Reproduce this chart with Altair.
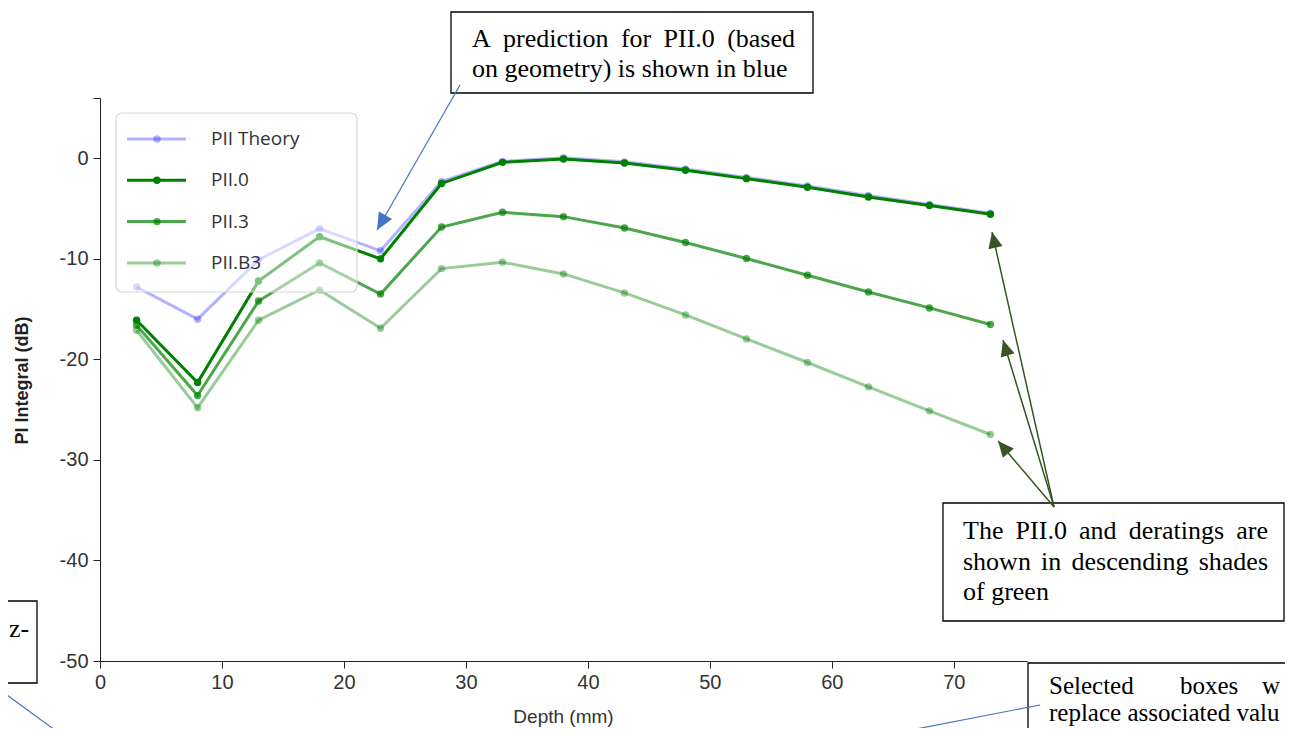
import math
import altair as alt
import pandas as pd

# ---------------- data ----------------
DEPTH = [3, 8, 13, 18, 23, 28, 33, 38, 43, 48, 53, 58, 63, 68, 73]
PII_THEORY = [-12.8, -16.0, -10.1, -7.0, -9.2, -2.3, -0.3, 0.05, -0.35, -1.05, -1.9, -2.75, -3.7, -4.6, -5.45]
PII_0 = [-16.1, -22.3, -12.2, -7.8, -10.0, -2.5, -0.4, -0.07, -0.47, -1.19, -2.02, -2.88, -3.84, -4.7, -5.57]
PII_3 = [-16.6, -23.6, -14.2, -10.4, -13.5, -6.83, -5.37, -5.8, -6.93, -8.38, -9.97, -11.63, -13.29, -14.88, -16.53]
PII_B3 = [-17.1, -24.8, -16.1, -13.1, -16.9, -10.97, -10.34, -11.5, -13.39, -15.58, -17.96, -20.31, -22.73, -25.12, -27.47]

SERIES = ["PII Theory", "PII.0", "PII.3", "PII.B3"]
COLORS = ["rgba(0,0,255,0.3)", "rgba(0,128,0,1)", "rgba(0,128,0,0.7)", "rgba(0,128,0,0.4)"]

X_TICKS = [0, 10, 20, 30, 40, 50, 60, 70]
Y_TICKS = [-50, -40, -30, -20, -10, 0, 6]

X_TITLE = "Depth (mm)"
Y_TITLE = "PI Integral (dB)"

NOTE_TOP = [["A", "prediction", "for", "PII.0", "(based"], "on geometry) is shown in blue"]
NOTE_RIGHT = [["The", "PII.0", "and", "deratings", "are"],
              ["shown", "in", "descending", "shades"], "of green"]
NOTE_BOTTOM = [["Selected", "boxes", "w"], "replace associated valu"]
NOTE_LEFT = "z-"

rows = []
for name, vals in zip(SERIES, [PII_THEORY, PII_0, PII_3, PII_B3]):
    for d, v in zip(DEPTH, vals):
        rows.append({"series": name, "depth": d, "pii": v})
df = pd.DataFrame(rows)

# ---------------- layout helpers ----------------
W, H = 927, 563
OX, OY = 100, 98          # page position of plot origin


def px(x):
    return x - OX


def py(y):
    return y - OY


one = pd.DataFrame({"k": [0]})
SERIF = "Liberation Serif"
SANS = "Liberation Sans"
NOTE_SIZE = 26

TIMES = {" ": .25, "A": .722, "B": .667, "I": .333, "P": .556, "S": .556, "T": .611,
         "a": .444, "b": .5, "c": .444, "d": .5, "e": .444, "f": .333, "g": .5, "h": .5,
         "i": .278, "l": .278, "m": .778, "n": .5, "o": .5, "p": .5, "r": .333, "s": .389,
         "t": .278, "u": .5, "v": .5, "w": .722, "x": .5, "y": .5, "z": .444, "(": .333,
         ")": .333, ".": .25, "0": .5, "3": .5, "-": .333}


def tw(s, size=NOTE_SIZE):
    return sum(TIMES.get(c, .5) for c in s) * size


def text(s, x, y, align="left", baseline="alphabetic", font=SERIF, size=NOTE_SIZE,
         color="#000000", weight="normal"):
    return alt.Chart(one).mark_text(align=align, baseline=baseline, font=font, fontSize=size,
                                    color=color, fontWeight=weight).encode(
        x=alt.value(px(x)), y=alt.value(py(y)), text=alt.value(s))


def justified(words, x0, x1, y):
    total = sum(tw(w) for w in words)
    gap = (x1 - x0 - total) / (len(words) - 1)
    out, cx = [], x0
    for w in words:
        out.append(text(w, cx, y))
        cx += tw(w) + gap
    return out


def box(x1, y1, x2, y2, stroke="#000000", sw=1.3, fill="#ffffff", fo=1.0, cr=0):
    return alt.Chart(one).mark_rect(stroke=stroke, strokeWidth=sw, fill=fill, fillOpacity=fo,
                                    cornerRadius=cr).encode(
        x=alt.value(px(x1)), x2=alt.value(px(x2)), y=alt.value(py(y1)), y2=alt.value(py(y2)))


def seg(x1, y1, x2, y2, color, sw):
    return alt.Chart(one).mark_rule(color=color, strokeWidth=sw).encode(
        x=alt.value(px(x1)), x2=alt.value(px(x2)), y=alt.value(py(y1)), y2=alt.value(py(y2)))


def arrow(x1, y1, x2, y2, color, sw, head=16, half=0.42):
    ang = math.degrees(math.atan2(x2 - x1, -(y2 - y1))) % 360
    shape = f"M0,0L{-half},1L{half},1Z"
    head_mark = alt.Chart(one).mark_point(shape=shape, filled=True, color=color, opacity=1,
                                          size=(2 * head) ** 2, angle=ang).encode(
        x=alt.value(px(x2)), y=alt.value(py(y2)))
    return [seg(x1, y1, x2, y2, color, sw), head_mark]


# ---------------- main chart ----------------
color = alt.Color("series:N", scale=alt.Scale(domain=SERIES, range=COLORS), legend=None)

lines = alt.Chart(df).mark_line(
    strokeWidth=3,
    point=alt.OverlayMarkDef(size=55, filled=True, opacity=1),
).encode(
    x=alt.X("depth:Q", scale=alt.Scale(domain=[0, 76], nice=False, zero=False),
            axis=alt.Axis(values=X_TICKS, grid=False, domainColor="#222222", tickColor="#222222",
                          tickSize=7, labelFont=SANS, labelFontSize=20, labelColor="#333333",
                          labelPadding=4, labelFlush=False, title=X_TITLE, titleFont=SANS,
                          titleFontSize=19, titleFontWeight="normal", titleColor="#333333",
                          titleX=463, titleY=55, titleBaseline="middle", titleAlign="center")),
    y=alt.Y("pii:Q", scale=alt.Scale(domain=[-50, 6], nice=False, zero=False),
            axis=alt.Axis(values=Y_TICKS, grid=False, domainColor="#222222", tickColor="#222222",
                          tickSize=7, labelFont=SANS, labelFontSize=20, labelColor="#333333",
                          labelPadding=5, labelFlush=False, labelOverlap=False,
                          labelExpr="datum.value > 0 ? '' : toString(datum.value)",
                          title=Y_TITLE, titleFont=SANS, titleFontSize=18, titleFontWeight="bold",
                          titleColor="#222222", titleAngle=270, titleX=-78, titleY=282,
                          titleBaseline="middle", titleAlign="center")),
    color=color,
)

layers = [lines]

# legend (drawn over the lines with a translucent box)
layers.append(box(116, 113, 357, 292, stroke="#d6d6d6", sw=1.2, fo=0.5, cr=6))
for i, (name, col) in enumerate(zip(SERIES, COLORS)):
    ry = 139 + 41.3 * i
    layers.append(seg(127, ry, 186, ry, col, 3))
    layers.append(alt.Chart(one).mark_point(filled=True, color=col, opacity=1, size=55,
                                            shape="circle").encode(
        x=alt.value(px(157)), y=alt.value(py(ry))))
    layers.append(text(name, 211, ry, baseline="middle", font="Open Sans", size=19,
                       color="#333333"))

# top annotation
layers.append(box(451, 12, 813, 93))
layers += justified(NOTE_TOP[0], 472, 795, 47)
layers.append(text(NOTE_TOP[1], 472, 77))
layers += arrow(460, 85, 377, 230, "#4472c4", 1.2, head=17, half=0.45)

# right annotation
layers.append(box(943, 503, 1284, 621))
layers += justified(NOTE_RIGHT[0], 963, 1268, 539)
layers += justified(NOTE_RIGHT[1], 963, 1268, 570)
layers.append(text(NOTE_RIGHT[2], 963, 600))
for tx, ty in [(992, 232), (1003, 340), (998, 441)]:
    layers += arrow(1054, 507, tx, ty, "#375623", 1.5, head=16, half=0.45)

# bottom-right annotation (runs off the page edge)
layers.append(box(1028, 663, 1400, 800))
for w, wx in zip(NOTE_BOTTOM[0], [1049, 1180, 1262]):
    layers.append(text(w, wx, 694, size=25))
layers.append(text(NOTE_BOTTOM[1], 1049, 721, size=25))
layers.append(seg(1040, 705, 880, 736, "#4472c4", 1.2))

# left annotation (runs off the page edge)
layers.append(box(-40, 601, 37, 683))
layers.append(text(NOTE_LEFT, 9, 637, align="left"))
layers.append(seg(0, 690, 63, 736, "#4472c4", 1.2))

chart = alt.layer(*layers).properties(
    width=W, height=H,
    background="#ffffff",
    autosize=alt.AutoSizeParams(type="none"),
    padding={"left": 92, "top": 90, "right": 258, "bottom": 67},
).configure_view(stroke=None)

chart.save("out.html", embed_options={"renderer": "svg", "actions": False})
